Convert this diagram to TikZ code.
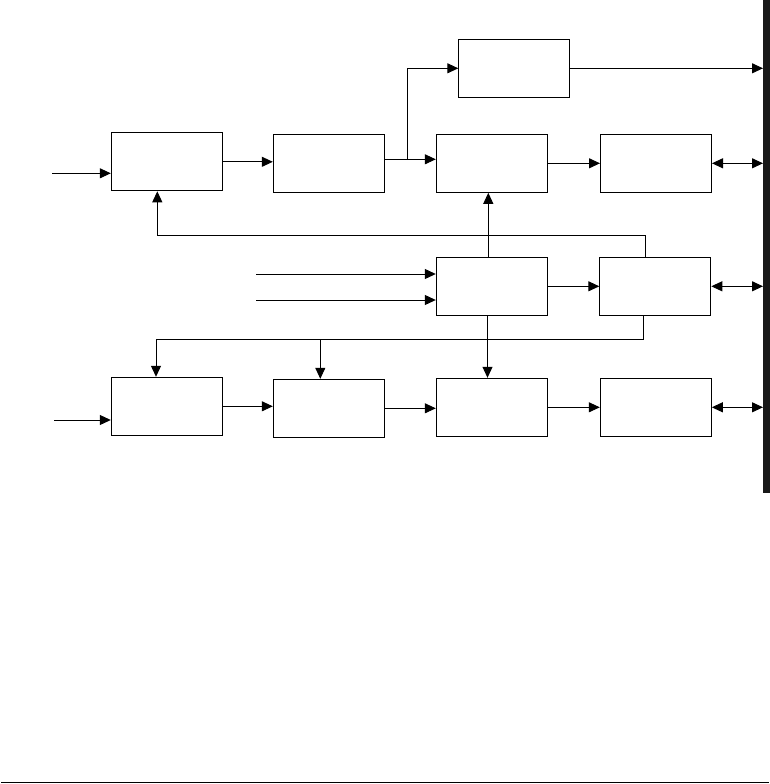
\documentclass[tikz,border=0pt]{standalone}
\usetikzlibrary{arrows.meta}
\tikzset{
  blk/.style={draw, line width=1pt, minimum width=111pt, minimum height=58pt, inner sep=0pt},
  wire/.style={line width=1pt},
  >={Triangle[length=11pt,width=10pt]},
}
\begin{document}
\begin{tikzpicture}[x=1pt,y=-1pt]
\useasboundingbox (0,0) rectangle (770,784);
% blocks
\node[blk] (top) at (514.3,68.3) {};
\node[blk] (a1) at (166.8,161.8) {};
\node[blk] (a2) at (328.8,163.3) {};
\node[blk] (a3) at (491.8,163.3) {};
\node[blk] (a4) at (656.0,163.3) {};
\node[blk] (b3) at (491.8,286.3) {};
\node[blk] (b4) at (655.3,286.3) {};
\node[blk] (c1) at (166.8,406.3) {};
\node[blk] (c2) at (328.8,408.3) {};
\node[blk] (c3) at (491.8,407.3) {};
\node[blk] (c4) at (655.8,407.3) {};
% free ends and bends
\coordinate (rail) at (763,0);
\coordinate (ina) at (52,173.3);
\coordinate (inb) at (256,274);
\coordinate (inc) at (256,300);
\coordinate (ind) at (54,420);
\coordinate (split) at (407.3,159.3);
\coordinate (up) at (488.3,0);
\coordinate (dn) at (487.5,0);
\coordinate (fbr) at (645.5,235.3);
\coordinate (fbl) at (157.3,235.3);
\coordinate (fdr) at (643.3,339.3);
\coordinate (fdm) at (320.3,339.3);
\coordinate (fdl) at (156.0,339.3);
% top row
\draw[wire,->] (ina) -- (ina -| a1.west);
\draw[wire,->] (a1.east) -- (a1.east -| a2.west);
\draw[wire] (a2.east |- split) -- (split);
\draw[wire,->] (split) -- (split -| a3.west);
\draw[wire,->] (split) |- (top.west);
\draw[wire,->] (top.east) -- (top.east -| rail);
\draw[wire,->] (a3.east) -- (a4.west);
\draw[wire,<->] (a4.east) -- (a4.east -| rail);
% middle row
\draw[wire,->] (b4.north -| fbr) -- (fbr) -- (fbl) -- (fbl |- a1.south);
\draw[wire,->] (b3.north -| up) -- (a3.south -| up);
\draw[wire,->] (inb) -- (inb -| b3.west);
\draw[wire,->] (inc) -- (inc -| b3.west);
\draw[wire,->] (b3.east) -- (b4.west);
\draw[wire,<->] (b4.east) -- (b4.east -| rail);
\draw[wire,->] (b3.south -| dn) -- (c3.north -| dn);
\draw[wire] (b4.south -| fdr) -- (fdr) -- (fdl);
\draw[wire,->] (fdl) -- (fdl |- c1.north);
\draw[wire,->] (fdm) -- (fdm |- c2.north);
% bottom row
\draw[wire,->] (ind) -- (ind -| c1.west);
\draw[wire,->] (c1.east) -- (c1.east -| c2.west);
\draw[wire,->] (c2.east) -- (c2.east -| c3.west);
\draw[wire,->] (c3.east) -- (c4.west);
\draw[wire,<->] (c4.east) -- (c4.east -| rail);
% page edge marks
\fill[black!90] (763,0) rectangle (770,493);
\draw[line width=1.3pt] (1,782.7) -- (769,782.7);
\end{tikzpicture}
\end{document}
